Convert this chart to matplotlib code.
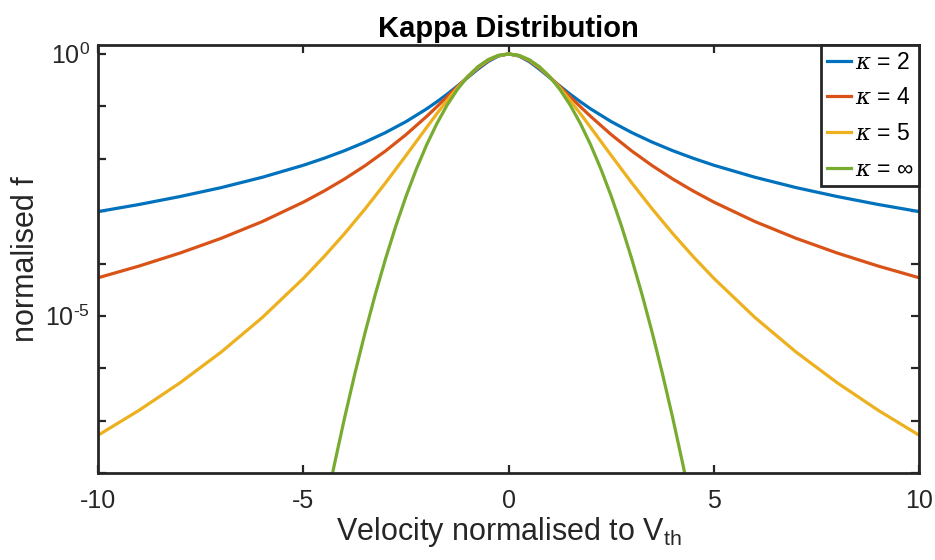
import numpy as np
import matplotlib
matplotlib.use("Agg")
from matplotlib import pyplot as plt
from matplotlib import ticker as mtick

# Curves are symmetric about v = 0, so only the v >= 0 half is listed.
# Values are log10 of the normalised f.
v_kappa = [0, 0.25, 0.5, 0.75, 1, 1.25, 1.5, 1.75, 2, 2.5, 3, 3.5, 4, 4.5,
           5, 6, 7, 8, 9, 10]
logf_k2 = [0, -0.040, -0.145, -0.291, -0.452, -0.613, -0.768, -0.913, -1.049,
           -1.291, -1.500, -1.683, -1.846, -1.991, -2.123, -2.352, -2.549,
           -2.719, -2.871, -3.007]
logf_k4 = [0, -0.033, -0.128, -0.269, -0.440, -0.627, -0.818, -1.008, -1.193,
           -1.539, -1.851, -2.132, -2.386, -2.616, -2.826, -3.197, -3.516,
           -3.796, -4.045, -4.269]
logf_k5 = [0, -0.030, -0.117, -0.255, -0.436, -0.650, -0.888, -1.141, -1.404,
           -1.937, -2.459, -2.958, -3.428, -3.868, -4.280, -5.026, -5.684,
           -6.269, -6.795, -7.272]

v_maxw = [0, 0.25, 0.5, 0.75, 1, 1.25, 1.5, 1.75, 2, 2.25, 2.5, 2.75, 3,
          3.25, 3.5, 3.75, 4, 4.25, 4.5]
logf_inf = [0, -0.027, -0.109, -0.244, -0.434, -0.679, -0.977, -1.330, -1.737,
            -2.199, -2.714, -3.284, -3.909, -4.587, -5.320, -6.107, -6.949,
            -7.845, -8.794]

labels = [r"$\kappa$ = 2", r"$\kappa$ = 4", r"$\kappa$ = 5", r"$\kappa$ = $\infty$"]
colors = ["#0072BD", "#D95319", "#EDB120", "#77AC30"]

xticks = [-10, -5, 0, 5, 10]
ydecades = list(range(-8, 1))
ylabelled = [0, -5]

AX_COLOR = "#262626"

plt.rcParams["font.family"] = ["Liberation Sans", "DejaVu Sans"]
plt.rcParams["mathtext.fontset"] = "custom"
plt.rcParams["mathtext.rm"] = "Liberation Sans"
plt.rcParams["mathtext.it"] = "DejaVu Serif:italic"
plt.rcParams["mathtext.sf"] = "Liberation Sans"
plt.rcParams["axes.unicode_minus"] = False


def mirror(v, logf):
    v = np.asarray(v, dtype=float)
    lf = np.asarray(logf, dtype=float)
    x = np.concatenate([-v[::-1], v[1:]])
    y = np.concatenate([lf[::-1], lf[1:]])
    return x, 10.0 ** y


def decade_label(val, pos):
    d = int(round(np.log10(val)))
    if d not in ylabelled:
        return ""
    return r"10$^{\text{%d}}$" % d


fig = plt.figure(figsize=(9.35, 5.6), dpi=100)
ax = fig.add_axes([0.1051, 0.1548, 0.8778, 0.7648])

series = [(v_kappa, logf_k2), (v_kappa, logf_k4), (v_kappa, logf_k5), (v_maxw, logf_inf)]
for (v, lf), lab, col in zip(series, labels, colors):
    x, y = mirror(v, lf)
    ax.plot(x, y, color=col, lw=2.3, label=lab)

ax.set_yscale("log")
ax.set_xlim(-10, 10)
ax.set_ylim(1e-8, 10 ** 0.17)

ax.set_xticks(xticks)
ax.set_xticklabels([str(t) for t in xticks])
ax.yaxis.set_major_locator(mtick.FixedLocator([10.0 ** d for d in ydecades]))
ax.yaxis.set_minor_locator(mtick.NullLocator())
ax.yaxis.set_major_formatter(mtick.FuncFormatter(decade_label))

ax.tick_params(which="both", direction="in", top=True, right=True,
               length=6, width=1.6, color=AX_COLOR, labelcolor=AX_COLOR,
               labelsize=18)
ax.tick_params(axis="x", pad=11)
ax.tick_params(axis="y", pad=6)
for sp in ax.spines.values():
    sp.set_linewidth(2.0)
    sp.set_color(AX_COLOR)

ax.set_title("Kappa Distribution", fontsize=21, fontweight="bold", pad=6)
ax.set_xlabel(r"Velocity normalised to V$_{\mathrm{th}}$", fontsize=22,
              color=AX_COLOR, labelpad=2)
ax.set_ylabel("normalised f", fontsize=22, color=AX_COLOR, labelpad=3)

leg = ax.legend(loc="upper right", fontsize=16.5, frameon=True, fancybox=False,
                borderaxespad=0, handlelength=1.05, handletextpad=0.15,
                labelspacing=0.55, borderpad=0.25)
leg.get_frame().set_edgecolor(AX_COLOR)
leg.get_frame().set_linewidth(2.0)
leg.get_frame().set_alpha(1)

plt.savefig("out.png", dpi=100)
